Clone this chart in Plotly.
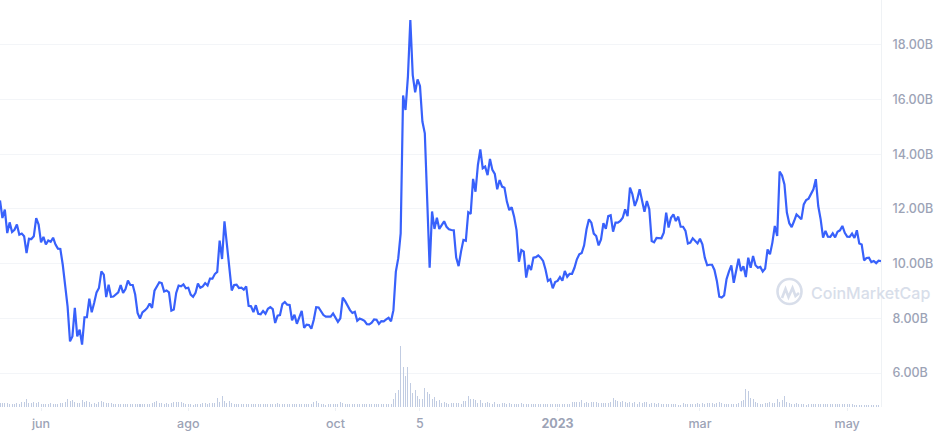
"""CoinMarketCap style market cap chart with volume bars."""
import pandas as pd
import plotly.graph_objects as go

START_DATE = "2022-05-15"

# market cap, billions, one value per day
market_cap = [
    12.31, 11.67, 11.98, 11.12, 11.51, 11.16, 11.24, 11.43, 11.06, 11.10,
    11.00, 10.39, 10.91, 10.90, 11.00, 11.67, 11.43, 10.78, 10.98, 10.70,
    10.85, 10.80, 10.95, 10.70, 10.55, 10.54, 9.96, 9.17, 8.44, 7.16,
    7.34, 8.38, 7.34, 7.59, 7.04, 8.04, 8.04, 8.72, 8.22, 8.56,
    8.95, 9.11, 9.72, 9.60, 8.78, 9.23, 8.79, 8.80, 8.88, 8.95,
    9.22, 8.93, 9.07, 9.38, 9.22, 9.22, 8.87, 8.20, 7.99, 8.22,
    8.29, 8.38, 8.54, 8.38, 9.01, 9.17, 9.32, 9.29, 8.98, 9.02,
    8.95, 8.28, 8.32, 8.93, 9.20, 9.17, 9.24, 9.10, 9.12, 8.87,
    8.79, 8.93, 9.27, 9.12, 9.17, 9.29, 9.20, 9.45, 9.45, 9.62,
    9.70, 10.84, 10.17, 11.55, 10.76, 9.96, 9.02, 9.22, 9.23, 9.11,
    9.12, 9.05, 9.17, 8.46, 8.44, 8.23, 8.48, 8.17, 8.15, 8.27,
    8.17, 8.35, 8.41, 8.34, 7.83, 8.10, 8.12, 8.52, 8.60, 8.50,
    8.49, 7.93, 8.13, 7.80, 8.07, 8.27, 7.65, 7.77, 7.76, 7.62,
    7.95, 8.41, 8.40, 8.24, 8.12, 8.06, 8.05, 8.06, 8.18, 8.04,
    7.87, 8.00, 8.76, 8.63, 8.46, 8.30, 8.20, 8.24, 7.91, 7.99,
    7.96, 7.91, 7.79, 7.78, 7.84, 7.96, 7.95, 7.80, 7.90, 7.89,
    7.96, 8.02, 7.89, 8.30, 9.71, 10.20, 11.11, 16.15, 15.62, 16.84,
    18.91, 16.90, 16.27, 16.74, 16.50, 15.20, 14.77, 12.09, 9.85, 11.91,
    11.27, 11.68, 11.27, 11.41, 11.55, 11.35, 11.26, 11.23, 11.22, 10.22,
    9.91, 10.44, 10.87, 10.84, 11.88, 11.82, 13.10, 12.63, 13.61, 14.18,
    13.49, 13.55, 13.24, 13.83, 13.43, 13.28, 12.72, 13.06, 12.82, 12.78,
    12.27, 11.96, 12.06, 11.72, 11.23, 10.07, 10.50, 10.44, 9.49, 9.95,
    9.77, 10.22, 10.24, 10.30, 10.22, 10.10, 9.79, 9.37, 9.43, 9.10,
    9.33, 9.37, 9.51, 9.38, 9.73, 9.52, 9.63, 9.63, 9.85, 10.16,
    10.34, 10.39, 10.67, 11.26, 11.62, 11.50, 11.10, 11.01, 10.67, 10.89,
    11.48, 11.28, 11.74, 11.77, 11.17, 11.50, 11.50, 11.56, 11.68, 11.99,
    11.74, 12.78, 12.54, 12.11, 12.35, 12.72, 12.29, 11.90, 12.29, 11.99,
    10.83, 10.78, 10.94, 10.93, 10.93, 11.13, 11.87, 11.32, 11.68, 11.80,
    11.56, 11.72, 11.35, 11.35, 11.20, 10.74, 10.77, 10.93, 10.83, 10.74,
    10.91, 10.71, 10.22, 9.94, 9.96, 9.96, 9.77, 9.37, 8.79, 8.76,
    8.84, 9.43, 9.71, 9.94, 9.30, 9.71, 10.18, 9.73, 9.91, 9.51,
    10.22, 9.85, 10.28, 9.94, 9.85, 9.88, 9.71, 9.82, 10.52, 10.34,
    10.77, 11.38, 11.01, 13.37, 13.23, 12.90, 11.87, 11.48, 11.34, 11.56,
    11.80, 11.72, 11.62, 12.17, 12.33, 12.38, 12.56, 12.72, 13.09, 12.11,
    11.62, 10.95, 11.20, 10.99, 10.98, 11.11, 10.96, 11.17, 11.22, 11.38,
    11.13, 10.99, 10.98, 11.10, 10.94, 11.22, 10.74, 10.70, 10.12, 10.21,
    10.22, 10.06, 10.10, 10.02, 10.11, 10.09,
]

# volume, same days (arbitrary scale)
volume = [
    11, 11, 12, 12, 8, 10, 9, 11, 10, 16,
    15, 24, 13, 11, 14, 12, 14, 9, 9, 9,
    10, 12, 8, 10, 9, 11, 12, 16, 24, 18,
    21, 15, 11, 13, 20, 15, 18, 14, 10, 12,
    10, 16, 18, 15, 12, 13, 11, 9, 10, 9,
    9, 9, 9, 8, 9, 9, 10, 9, 9, 9,
    8, 9, 9, 12, 14, 18, 13, 11, 10, 11,
    10, 12, 14, 15, 14, 15, 12, 10, 9, 8,
    7, 9, 8, 9, 11, 12, 10, 13, 11, 12,
    28, 15, 34, 18, 12, 17, 12, 10, 9, 10,
    9, 9, 10, 10, 9, 9, 9, 8, 8, 9,
    8, 9, 10, 9, 9, 12, 10, 10, 10, 10,
    10, 8, 8, 9, 10, 10, 9, 10, 9, 9,
    15, 17, 12, 10, 9, 7, 8, 9, 9, 8,
    8, 15, 12, 10, 10, 8, 8, 9, 8, 9,
    8, 8, 8, 9, 8, 9, 8, 8, 8, 8,
    9, 8, 10, 24, 42, 52, 184, 121, 92, 121,
    73, 42, 50, 33, 24, 24, 58, 46, 40, 24,
    30, 17, 21, 12, 15, 11, 9, 11, 12, 12,
    12, 10, 18, 19, 33, 24, 25, 22, 13, 20,
    13, 11, 15, 13, 10, 14, 10, 9, 12, 11,
    10, 12, 9, 10, 9, 8, 12, 9, 9, 8,
    9, 10, 8, 9, 10, 9, 8, 8, 9, 9,
    9, 8, 8, 9, 10, 9, 8, 14, 14, 16,
    15, 20, 12, 14, 12, 16, 14, 14, 12, 12,
    12, 12, 12, 14, 27, 22, 18, 14, 18, 15,
    12, 15, 11, 14, 8, 14, 12, 15, 14, 10,
    12, 13, 10, 12, 9, 10, 9, 8, 8, 10,
    9, 7, 7, 11, 8, 9, 9, 9, 9, 11,
    10, 12, 10, 11, 13, 12, 10, 11, 14, 13,
    10, 10, 9, 8, 8, 9, 12, 18, 20, 54,
    48, 27, 24, 14, 12, 10, 10, 13, 13, 16,
    11, 13, 24, 16, 20, 33, 14, 11, 10, 10,
    12, 8, 9, 8, 7, 9, 9, 9, 8, 9,
    9, 9, 8, 8, 9, 9, 8, 8, 8, 8,
    9, 8, 8, 8, 7, 7,
]

tick_dates = ["2022-06-01", "2022-08-01", "2022-10-01", "2022-11-05",
              "2023-01-01", "2023-03-01", "2023-05-01"]
tick_labels = ["jun", "ago", "oct", "5", "<b>2023</b>", "mar", "may"]
cap_ticks = [6, 8, 10, 12, 14, 16, 18]
cap_tick_labels = ["6.00B", "8.00B", "10.00B", "12.00B", "14.00B", "16.00B", "18.00B"]

PLOT_W = 881
PLOT_H = 407
GREY = "#9ca3b6"
GRID = "#f3f5f8"
MARK = "#d8deea"


def px_x(x):
    return x / PLOT_W


def px_y(y):
    return (PLOT_H - y) / PLOT_H


days = pd.date_range(START_DATE, periods=len(market_cap), freq="D")
volume = (volume + [7] * len(days))[: len(days)]

fig = go.Figure()
# a colour with alpha makes plotly round the bar edges, which keeps them 1px wide
fig.add_trace(go.Bar(x=days, y=volume, yaxis="y2",
                     marker=dict(color="rgba(190,201,224,0.95)", line_width=0),
                     width=86400000 * 0.415, hoverinfo="skip"))
fig.add_trace(go.Scatter(x=days, y=market_cap, mode="lines",
                         line=dict(color="#3861fb", width=2.2)))

# watermark logo
logo = dict(type="circle", xref="paper", yref="paper", line=dict(color=MARK, width=2.6),
            x0=px_x(777.5), x1=px_x(801.5), y0=px_y(304), y1=px_y(279))
squiggle = "M {} {} L {} {} L {} {} L {} {} L {} {} L {} {}".format(
    px_x(782), px_y(298), px_x(785.5), px_y(289), px_x(788.5), px_y(297),
    px_x(792.5), px_y(288), px_x(795.5), px_y(296), px_x(799), px_y(293))

fig.update_layout(
    width=940,
    height=435,
    margin=dict(l=0, r=59, t=0, b=28),
    paper_bgcolor="white",
    plot_bgcolor="white",
    showlegend=False,
    bargap=0,
    font=dict(family="Inter", size=12.5, color=GREY, weight=500),
    xaxis=dict(
        range=[days[0], days[-1]],
        tickvals=tick_dates,
        ticktext=tick_labels,
        tickangle=0,
        showgrid=False,
        zeroline=False,
        ticks="outside",
        ticklen=3,
        tickcolor="#eceff4",
        ticklabelstandoff=2,
    ),
    yaxis=dict(
        range=[4.757, 19.645],
        side="right",
        tickvals=cap_ticks,
        ticktext=cap_tick_labels,
        gridcolor=GRID,
        gridwidth=1,
        zeroline=False,
        showline=True,
        linecolor="#eff2f5",
        ticklabelstandoff=8,
    ),
    yaxis2=dict(range=[0, 1221], overlaying="y", visible=False),
    shapes=[
        logo,
        dict(type="path", path=squiggle, xref="paper", yref="paper",
             line=dict(color=MARK, width=2.6)),
    ],
    annotations=[
        dict(text="CoinMarketCap", xref="paper", yref="paper", x=px_x(809), y=px_y(292.5),
             xanchor="left", yanchor="middle", showarrow=False,
             font=dict(family="Inter", size=16, color=MARK, weight=500)),
    ],
)

# the page's default body margin would push the chart 8px off
fig.write_html("out.html", config={"displayModeBar": False},
               post_script="document.body.style.margin = '0';")
